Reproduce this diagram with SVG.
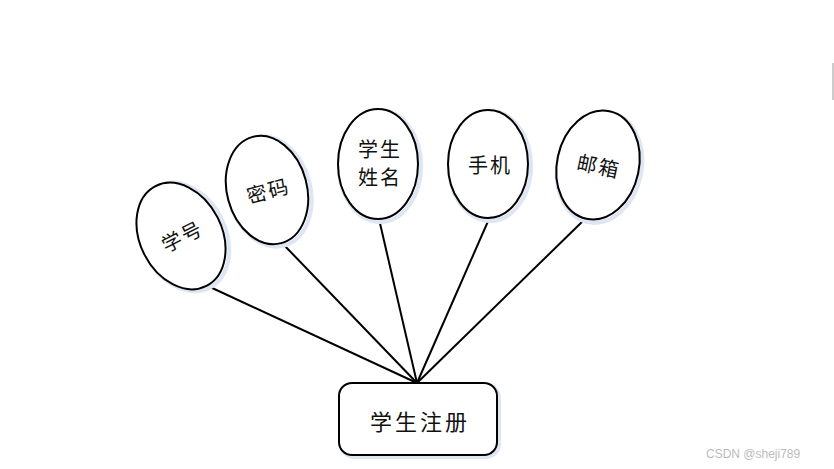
<svg xmlns="http://www.w3.org/2000/svg" width="834" height="469" viewBox="0 0 834 469">
<style>
.n{fill:#fff;stroke:#000;stroke-width:2}
.s{fill:none;stroke:#dde6f2;stroke-width:4}
.t{font-family:"Noto Sans CJK SC","Liberation Sans",sans-serif;font-size:20px;letter-spacing:2px;fill:#111;text-anchor:middle;dominant-baseline:central}
.c{stroke:#000;stroke-width:2;fill:none}
.w{font-family:"Liberation Sans",sans-serif;font-size:12px;fill:#bbb}
</style>
<rect width="834" height="469" fill="#fff"/>
<g id="connectors">
<line class="c" x1="210" y1="287" x2="417" y2="383"/>
<line class="c" x1="283" y1="244" x2="417" y2="383"/>
<line class="c" x1="379" y1="219" x2="417" y2="383"/>
<line class="c" x1="489" y1="219" x2="417" y2="383"/>
<line class="c" x1="585" y1="219" x2="417" y2="383"/>
</g>
<g id="xuehao" transform="translate(181,236) rotate(-27)">
<ellipse class="s" cx="2" cy="2" rx="42" ry="57"/>
<ellipse class="n" cx="0" cy="0" rx="41" ry="56"/>
<text class="t" x="1" y="0">学号</text>
</g>
<g id="mima" transform="translate(267,190) rotate(-15)">
<ellipse class="s" cx="2" cy="2" rx="41" ry="56"/>
<ellipse class="n" cx="0" cy="0" rx="40" ry="55"/>
<text class="t" x="1" y="0">密码</text>
</g>
<g id="xingming">
<ellipse class="s" cx="380" cy="166" rx="41" ry="56"/>
<ellipse class="n" cx="378" cy="164" rx="40" ry="55"/>
<text class="t" x="380" y="148">学生</text>
<text class="t" x="380" y="176">姓名</text>
</g>
<g id="shouji">
<ellipse class="s" cx="490" cy="166" rx="41" ry="55"/>
<ellipse class="n" cx="488" cy="164" rx="40" ry="54"/>
<text class="t" x="490" y="164">手机</text>
</g>
<g id="youxiang" transform="translate(598,165) rotate(12)">
<ellipse class="s" cx="2" cy="2" rx="42" ry="56"/>
<ellipse class="n" cx="0" cy="0" rx="41" ry="55"/>
<text class="t" x="1" y="0">邮箱</text>
</g>
<g id="zhuce">
<rect class="s" x="341" y="385" width="158" height="72" rx="13"/>
<rect class="n" x="339" y="383" width="158" height="72" rx="13"/>
<text class="t" x="420" y="420" style="font-size:22px;letter-spacing:3px">学生注册</text>
</g>
<line x1="833" y1="63" x2="833" y2="100" stroke="#999" stroke-width="1"/>
<text class="w" x="706" y="458">CSDN @sheji789</text>
</svg>
